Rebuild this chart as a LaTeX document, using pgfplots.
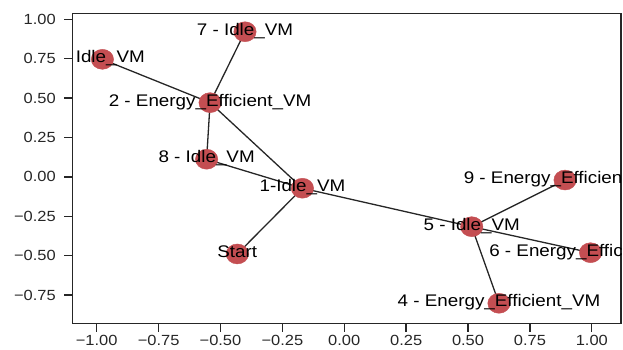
\documentclass[border=0pt]{standalone}
\usepackage{fontspec}
\setmainfont{Liberation Sans}[FakeStretch=1.12]
\usepackage{pgfplots}
\pgfplotsset{compat=1.18}
\definecolor{c15}{HTML}{262626}
\definecolor{nodered}{HTML}{C44E52}
\pgfplotsset{
  common/.style={
    scale only axis, width=548.3pt, height=310pt,
    at={(0,0)}, anchor=south west,
    xmin=-1.097, xmax=1.118, ymin=-0.929, ymax=1.038,
  }
}
\begin{document}
\begin{tikzpicture}
\begin{axis}[
  common,
  axis line style={color=c15, line width=1.4pt},
  tick style={color=c15, line width=1.4pt},
  tick align=outside, major tick length=8.5pt,
  xtick pos=left, ytick pos=left,
  xtick={-1,-0.75,-0.5,-0.25,0,0.25,0.5,0.75,1},
  xticklabels={−1.00,−0.75,−0.50,−0.25,0.00,0.25,0.50,0.75,1.00},
  ytick={-0.75,-0.5,-0.25,0,0.25,0.5,0.75,1},
  yticklabels={−0.75,−0.50,−0.25,0.00,0.25,0.50,0.75,1.00},
  ticklabel style={font=\fontsize{14.7}{17}\selectfont, text=c15},
  yticklabel style={xshift=-5pt},
  clip=true,
]
% edges
\addplot[black!85, line width=1.3pt] coordinates {(-0.977,0.746) (-0.542,0.471)};
\addplot[black!85, line width=1.3pt] coordinates {(-0.401,0.921) (-0.542,0.471)};
\addplot[black!85, line width=1.3pt] coordinates {(-0.542,0.471) (-0.556,0.112)};
\addplot[black!85, line width=1.3pt] coordinates {(-0.542,0.471) (-0.169,-0.072)};
\addplot[black!85, line width=1.3pt] coordinates {(-0.556,0.112) (-0.169,-0.072)};
\addplot[black!85, line width=1.3pt] coordinates {(-0.169,-0.072) (-0.432,-0.489)};
\addplot[black!85, line width=1.3pt] coordinates {(-0.169,-0.072) (0.515,-0.316)};
\addplot[black!85, line width=1.3pt] coordinates {(0.515,-0.316) (0.892,-0.020)};
\addplot[black!85, line width=1.3pt] coordinates {(0.515,-0.316) (0.995,-0.481)};
\addplot[black!85, line width=1.3pt] coordinates {(0.515,-0.316) (0.625,-0.802)};
% nodes
\addplot[only marks, mark=*, mark size=10pt,
  mark options={fill=nodered, draw=nodered, xscale=1.12}] coordinates {
(-0.977,0.746) (-0.401,0.921) (-0.542,0.471) (-0.556,0.112) (-0.169,-0.072)
(-0.432,-0.489) (0.515,-0.316) (0.892,-0.020) (0.995,-0.481) (0.625,-0.802)};
\draw[c15, line width=1.4pt] (rel axis cs:0,0) rectangle (rel axis cs:1,1);
\end{axis}
\begin{scope}
\clip (0,0) rectangle (548.3pt,310pt);
\begin{axis}[common, hide axis]
\addplot[draw=none, mark=none, nodes near coords, point meta=explicit symbolic,
  every node near coord/.style={anchor=center, inner sep=0pt, text height=0.716em, text depth=0pt,
    font=\fontsize{16.8}{20}\selectfont, text=black}] coordinates {
(-1.000,0.746) [3 - Idle\_VM]
(-0.401,0.921) [7 - Idle\_VM]
(-0.542,0.471) [2 - Energy\_Efficient\_VM]
(-0.556,0.112) [8 - Idle\_VM]
(-0.169,-0.072) [1-Idle\_VM]
(-0.432,-0.489) [Start]
(0.515,-0.316) [5 - Idle\_VM]
(0.892,-0.020) [9 - Energy\_Efficient\_VM]
(0.995,-0.481) [6 - Energy\_Efficient\_VM]
(0.625,-0.802) [4 - Energy\_Efficient\_VM]};
\end{axis}
\end{scope}
\pgfresetboundingbox
\path[use as bounding box] (-72.7pt,-25.7pt) rectangle (550.3pt,323.3pt);
\end{tikzpicture}
\end{document}
